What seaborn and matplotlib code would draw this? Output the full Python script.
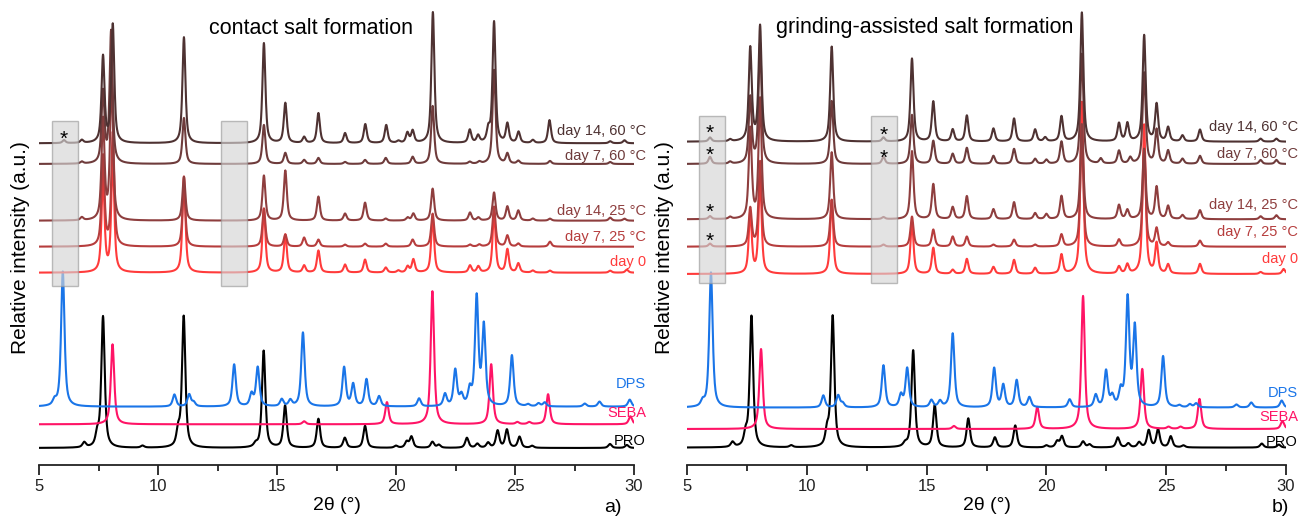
import numpy as np
import pandas as pd
from matplotlib import pyplot as plt
from matplotlib.patches import Rectangle
import seaborn as sns

# 2theta grid
two_theta = np.linspace(5, 30, 2501)

# reference patterns: (2theta, peak height above own baseline)
PRO_PEAKS = [(6.9, 5), (7.45, 12), (7.69, 131), (9.35, 2), (10.85, 15), (11.08, 131),
             (14.1, 3), (14.44, 97), (15.34, 42), (16.74, 29), (17.85, 10), (18.70, 22),
             (20.0, 2), (20.45, 6), (20.65, 11), (21.53, 6), (21.8, 3), (22.98, 10),
             (23.42, 4), (23.87, 5), (24.27, 17), (24.66, 18), (25.19, 11), (25.72, 2),
             (28.99, 4), (29.7, 3)]
SEBA_PEAKS = [(8.09, 80), (16.14, 3), (19.62, 22), (21.53, 133), (24.0, 60), (25.1, 2),
              (25.6, 2), (26.39, 30), (29.85, 8)]
DPS_PEAKS = [(5.65, 5), (6.0, 135), (10.69, 12), (11.31, 12), (11.5, 4), (13.2, 42),
             (13.93, 12), (14.19, 39), (15.2, 7), (15.56, 6), (16.09, 74), (17.82, 39),
             (18.2, 22), (18.76, 27), (19.29, 10), (20.97, 8), (22.06, 12), (22.49, 36),
             (22.75, 10), (23.1, 15), (23.39, 108), (23.69, 79), (24.87, 51), (25.55, 2),
             (25.99, 3), (26.25, 4), (27.93, 3), (28.55, 5), (29.82, 7)]

# contact salt formation (a)
C_D14_60 = [(6.05, 3), (6.8, 3), (7.69, 86), (8.1, 118), (11.09, 106), (14.45, 100),
            (15.35, 40), (16.14, 6), (16.74, 30), (17.86, 10), (18.71, 19), (19.59, 18),
            (20.1, 2), (20.48, 10), (20.7, 12), (21.55, 131), (23.1, 13), (23.45, 7),
            (23.88, 12), (24.12, 121), (24.68, 19), (25.15, 11), (25.75, 3), (26.45, 23),
            (29.0, 2), (29.6, 3)]
C_D7_60 = [(6.8, 2), (7.69, 71), (8.03, 132), (11.09, 46), (14.45, 39), (15.35, 11),
           (16.14, 4), (16.74, 6), (17.86, 2), (18.7, 4), (19.57, 6), (20.7, 7), (21.54, 58),
           (23.1, 2), (23.5, 2), (24.12, 94), (24.68, 10), (25.14, 3), (26.47, 3), (29.0, 2)]
C_D14_25 = [(6.8, 3), (7.69, 100), (8.05, 140), (11.09, 44), (14.45, 45), (15.35, 50),
            (16.74, 24), (17.86, 7), (18.7, 18), (19.57, 2), (20.49, 3), (20.73, 7),
            (21.54, 32), (23.11, 8), (23.46, 3), (24.12, 28), (24.68, 14), (25.14, 10),
            (25.75, 2), (26.47, 2), (29.0, 3), (29.6, 2)]
C_D7_25 = [(7.69, 90), (8.1, 113), (11.09, 60), (14.45, 38), (15.35, 12), (16.14, 9),
           (16.74, 7), (17.86, 2), (18.7, 3), (19.57, 3), (20.7, 7), (21.54, 33), (23.11, 2),
           (23.5, 2), (24.12, 40), (24.68, 11), (25.14, 3), (26.47, 5)]
C_D0 = [(7.69, 93), (8.1, 113), (11.09, 96), (14.45, 64), (15.35, 38), (16.14, 7),
        (16.74, 22), (17.86, 8), (18.7, 13), (19.57, 5), (20.1, 2), (20.49, 6), (20.73, 13),
        (21.54, 55), (23.11, 7), (23.46, 6), (24.12, 60), (24.68, 23), (25.14, 9),
        (25.75, 2), (26.47, 2), (29.0, 2), (29.7, 3)]

# grinding-assisted salt formation (b)
G_D14_60 = [(5.96, 4), (6.8, 2), (7.64, 93), (8.05, 115), (11.04, 95), (13.2, 4),
            (14.39, 83), (15.28, 40), (16.09, 12), (16.68, 26), (17.79, 13), (18.65, 23),
            (19.53, 12), (19.95, 4), (20.63, 25), (21.48, 129), (23.03, 18), (23.38, 18),
            (24.08, 106), (24.6, 37), (25.08, 14), (25.68, 6), (26.41, 12), (28.94, 3),
            (29.6, 3)]
G_D7_60 = [(5.96, 7), (6.8, 2), (7.64, 66), (8.05, 120), (11.04, 63), (13.2, 7),
           (14.39, 49), (15.28, 23), (16.09, 10), (16.68, 16), (17.79, 8), (18.65, 15),
           (19.53, 5), (20.0, 4), (20.63, 22), (21.48, 110), (22.27, 5), (23.03, 13),
           (23.5, 6), (24.08, 91), (24.6, 34), (25.08, 13), (25.68, 5), (26.41, 8),
           (28.94, 4), (29.6, 4)]
G_D14_25 = [(5.96, 3), (6.8, 2), (7.64, 90), (8.05, 120), (11.04, 67), (13.2, 2),
            (14.39, 68), (15.28, 35), (16.09, 12), (16.68, 23), (17.79, 10), (18.65, 17),
            (19.53, 6), (20.0, 5), (20.63, 23), (21.48, 95), (23.03, 14), (23.38, 9),
            (24.08, 70), (24.6, 32), (25.08, 13), (25.68, 4), (26.41, 9), (28.94, 3),
            (29.6, 4)]
G_D7_25 = [(5.96, 3), (7.64, 38), (8.05, 85), (11.04, 47), (13.2, 2), (14.39, 30),
           (15.28, 17), (16.09, 10), (16.68, 10), (17.79, 2), (18.65, 7), (19.53, 2),
           (20.63, 12), (21.48, 110), (23.03, 7), (24.08, 95), (24.6, 18), (25.08, 4),
           (26.41, 6)]
G_D0 = [(7.64, 61), (8.05, 95), (11.04, 74), (14.39, 52), (15.28, 26), (16.09, 4),
        (16.68, 15), (17.79, 7), (18.65, 14), (19.53, 6), (20.63, 19), (21.48, 172),
        (23.03, 7), (23.38, 9), (24.08, 149), (24.6, 30), (25.08, 9), (26.41, 10),
        (28.94, 2), (29.9, 5)]

names = ['PRO', 'SEBA', 'DPS', 'day 0', 'day 7, 25 °C', 'day 14, 25 °C',
         'day 7, 60 °C', 'day 14, 60 °C']
contact_offsets = [17, 40.7, 58.3, 192.3, 218.3, 244.3, 301, 321.7]
grinding_offsets = [17.4, 36, 57.4, 191, 218.3, 245.7, 301, 323.3]
contact_peaks = [PRO_PEAKS, SEBA_PEAKS, DPS_PEAKS, C_D0, C_D7_25, C_D14_25, C_D7_60, C_D14_60]
grinding_peaks = [PRO_PEAKS, SEBA_PEAKS, DPS_PEAKS, G_D0, G_D7_25, G_D14_25, G_D7_60, G_D14_60]

colors = {'PRO': '#000000', 'SEBA': '#ff1466', 'DPS': '#1a75e8', 'day 0': '#ff3b3b',
          'day 7, 25 °C': '#b63d3d', 'day 14, 25 °C': '#8e3e3e',
          'day 7, 60 °C': '#6e3b3b', 'day 14, 60 °C': '#4e3232'}


def profile(peaks, fwhm):
    # pseudo-Voigt peak shape
    y = np.zeros_like(two_theta)
    hw = fwhm / 2
    for pos, amp in peaks:
        d = two_theta - pos
        lor = 1 / (1 + (d / hw) ** 2)
        gau = np.exp(-np.log(2) * (d / hw) ** 2)
        y += amp * (0.7 * lor + 0.3 * gau)
    return y


def build_df(peak_sets, offsets):
    frames = []
    for name, peaks, off in zip(names, peak_sets, offsets):
        w = 0.17 if name in ('PRO', 'SEBA', 'DPS') else 0.15
        frames.append(pd.DataFrame({'two_theta': two_theta,
                                    'intensity': profile(peaks, w) + off,
                                    'sample': name}))
    return pd.concat(frames, ignore_index=True)


sns.set_style('ticks')
plt.rcParams['font.family'] = ['Liberation Sans', 'DejaVu Sans']
plt.rcParams['text.color'] = 'black'
plt.rcParams['axes.labelcolor'] = 'black'
plt.rcParams['xtick.color'] = '#222222'

fig = plt.figure(figsize=(13.03, 5.18), dpi=100)
ax_a = fig.add_axes([39 / 1303, 53 / 518, 595 / 1303, 460 / 518])
ax_b = fig.add_axes([687 / 1303, 53 / 518, 599 / 1303, 460 / 518])

panels = [
    (ax_a, contact_peaks, contact_offsets, 'contact salt formation', 16.43,
     [(5.53, 6.64), (12.65, 13.75)], (179, 344), [(6.05, 331)],
     [384, 413, 441], [262, 237, 211, 156, 131], 'a)', 613),
    (ax_b, grinding_peaks, grinding_offsets, 'grinding-assisted salt formation', 14.93,
     [(5.49, 6.60), (12.69, 13.78)], (182, 349),
     [(5.96, 337), (5.96, 315), (5.96, 258), (5.96, 229), (13.2, 335), (13.2, 312)],
     [393, 417, 442], [259, 232, 205, 154, 127], 'b)', 1280),
]

for ax, peak_sets, offsets, title, title_x, rects, rect_y, stars, ref_y, day_y, tag, tag_x in panels:
    df = build_df(peak_sets, offsets)
    sns.lineplot(data=df, x='two_theta', y='intensity', hue='sample', hue_order=names,
                 palette=colors, estimator=None, sort=False, legend=False,
                 linewidth=1.5, ax=ax)

    # grey boxes over the marked regions
    for x0, x1 in rects:
        ax.add_patch(Rectangle((x0, rect_y[0]), x1 - x0, rect_y[1] - rect_y[0],
                               facecolor='#d4d4d4', edgecolor='#9a9a9a', linewidth=1,
                               alpha=0.65, zorder=5))
    for sx, sy in stars:
        ax.text(sx, sy - 5, '*', ha='center', va='center', fontsize=15, zorder=6)

    ax.text(title_x, 437, title, ha='center', va='center', fontsize=15.5, zorder=6)

    # pattern labels
    clip = Rectangle((0, 0), 1.02, 1, transform=ax.transAxes)
    for name, yp in zip(['DPS', 'SEBA', 'PRO'], ref_y):
        t = ax.text(30.5, 465 - yp, name, ha='right', va='center', fontsize=10.5,
                    color=colors[name], clip_on=True)
        t.set_clip_path(clip)
    for name, yp in zip(names[3:], day_y):
        ax.text(30.5, 465 - yp, name, ha='right', va='center', fontsize=10.5,
                color=colors[name], clip_on=False)

    ax.set_xlim(5, 30)
    ax.set_ylim(0, 460)
    ax.set_xticks(np.arange(5, 31, 5))
    ax.set_xticks(np.arange(7.5, 30, 5), minor=True)
    ax.set_yticks([])
    ax.set_xlabel('2θ (°)', fontsize=14, labelpad=2)
    ax.set_ylabel('')
    ax.tick_params(axis='x', which='major', direction='out', length=7, width=1.3,
                   labelsize=12, pad=3)
    ax.tick_params(axis='x', which='minor', direction='out', length=4, width=1.3)
    sns.despine(ax=ax, left=True, top=True, right=True)
    ax.spines['bottom'].set_linewidth(1.3)
    ax.spines['bottom'].set_color('#222222')
    ax.patch.set_alpha(0)

    fig.text(tag_x / 1303, 1 - 508 / 518, tag, ha='center', va='center', fontsize=14)

fig.text(21 / 1303, 1 - 248 / 518, 'Relative intensity (a.u.)', rotation=90,
         ha='center', va='center', fontsize=15)
fig.text(664 / 1303, 1 - 248 / 518, 'Relative intensity (a.u.)', rotation=90,
         ha='center', va='center', fontsize=15)

fig.savefig('out.png', dpi=100)
